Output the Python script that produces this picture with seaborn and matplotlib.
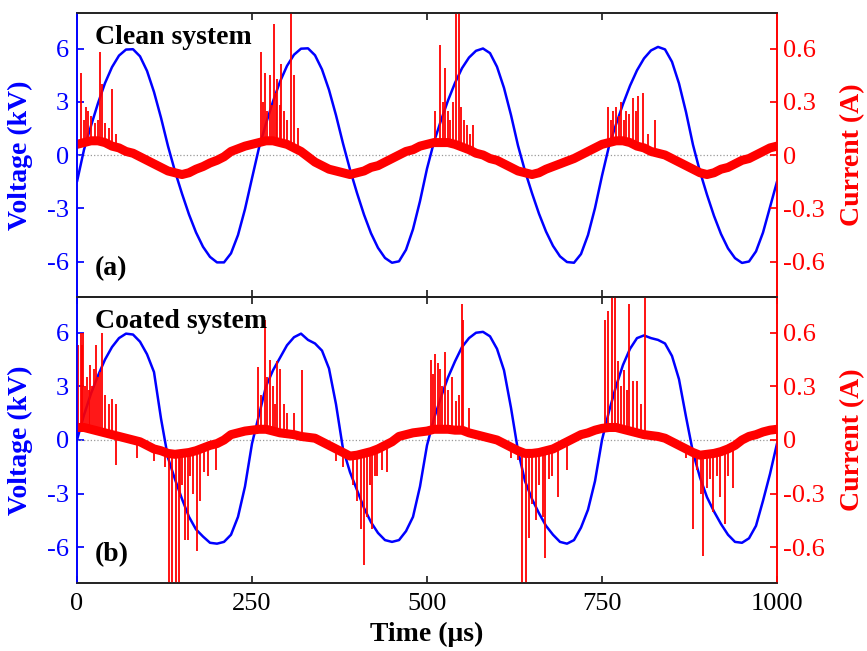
import numpy as np
import pandas as pd
import matplotlib
matplotlib.use("Agg")
import matplotlib.pyplot as plt
import seaborn as sns

# ---------------- data ----------------
time_us = list(range(0, 1001, 10))

clean_voltage = [
    -1.5, 0.3, 1.64, 2.92, 4.05, 4.95, 5.60, 5.94, 5.96, 5.56,
    4.74, 3.55, 2.10, 0.50, -0.92, -2.18, -3.35, -4.36, -5.17, -5.74,
    -6.05, -6.05, -5.54, -4.51, -3.05, -1.31, 0.41, 1.77, 3.02, 4.13,
    5.02, 5.65, 5.99, 6.01, 5.62, 4.82, 3.67, 2.24, 0.65, -0.82,
    -2.14, -3.36, -4.41, -5.23, -5.80, -6.07, -5.99, -5.34, -4.18, -2.60,
    -0.77, 0.74, 1.95, 3.07, 4.06, 4.89, 5.49, 5.87, 6.00, 5.74,
    4.97, 3.78, 2.25, 0.53, -0.90, -2.15, -3.31, -4.31, -5.12, -5.71,
    -6.03, -6.07, -5.58, -4.51, -2.99, -1.17, 0.50, 1.72, 2.87, 3.90,
    4.77, 5.44, 5.89, 6.09, 5.95, 5.25, 4.03, 2.42, 0.57, -0.94,
    -2.24, -3.43, -4.45, -5.26, -5.81, -6.08, -6.00, -5.43, -4.37, -2.94,
    -1.5,
]

coated_voltage = [
    0.0, 1.4, 2.6, 3.6, 4.5, 5.2, 5.7, 5.95, 5.9, 5.5,
    4.8, 3.8, 1.2, -1.0, -2.2, -3.3, -4.3, -5.0, -5.4, -5.75,
    -5.8, -5.7, -5.3, -4.3, -2.6, -0.2, 1.4, 3.0, 3.9, 4.6,
    5.3, 5.75, 5.95, 5.6, 5.4, 5.0, 4.0, 2.0, -0.5, -1.8,
    -2.8, -3.8, -4.6, -5.2, -5.6, -5.7, -5.6, -5.1, -4.3, -2.6,
    -0.3, 1.2, 2.4, 3.5, 4.4, 5.2, 5.7, 6.0, 6.05, 5.8,
    5.1, 3.9, 1.8, -0.6, -2.3, -3.3, -4.1, -4.8, -5.3, -5.7,
    -5.8, -5.6, -4.9, -3.9, -2.3, 0.0, 1.6, 3.0, 4.2, 5.1,
    5.7, 5.85, 5.7, 5.6, 5.4, 4.7, 3.4, 1.3, -0.7, -2.1,
    -3.2, -4.0, -4.7, -5.3, -5.7, -5.75, -5.5, -4.8, -3.4, -1.9,
    -0.2,
]

clean_current = [
    0.06, 0.07, 0.08, 0.08, 0.07, 0.05, 0.04, 0.02, 0.01, -0.01,
    -0.03, -0.05, -0.07, -0.09, -0.10, -0.11, -0.10, -0.08, -0.065, -0.045,
    -0.03, -0.01, 0.02, 0.035, 0.05, 0.06, 0.07, 0.08, 0.08, 0.07,
    0.06, 0.04, 0.02, -0.01, -0.04, -0.06, -0.08, -0.09, -0.10, -0.11,
    -0.10, -0.09, -0.07, -0.06, -0.04, -0.02, 0.0, 0.02, 0.03, 0.05,
    0.06, 0.07, 0.07, 0.07, 0.06, 0.045, 0.03, 0.01, 0.0, -0.02,
    -0.03, -0.05, -0.07, -0.09, -0.10, -0.11, -0.10, -0.08, -0.065, -0.05,
    -0.035, -0.02, 0.0, 0.02, 0.04, 0.06, 0.07, 0.08, 0.08, 0.07,
    0.05, 0.04, 0.02, 0.01, 0.0, -0.02, -0.04, -0.06, -0.08, -0.10,
    -0.11, -0.10, -0.08, -0.07, -0.05, -0.03, -0.02, 0.0, 0.02, 0.04,
    0.05,
]

coated_current = [
    0.07, 0.07, 0.06, 0.05, 0.04, 0.03, 0.02, 0.01, 0.0, -0.01,
    -0.03, -0.05, -0.06, -0.075, -0.08, -0.075, -0.07, -0.06, -0.045, -0.03,
    -0.02, 0.0, 0.03, 0.04, 0.05, 0.055, 0.06, 0.06, 0.05, 0.04,
    0.035, 0.03, 0.02, 0.015, 0.01, -0.01, -0.03, -0.05, -0.07, -0.09,
    -0.085, -0.075, -0.065, -0.05, -0.03, -0.01, 0.02, 0.03, 0.04, 0.045,
    0.05, 0.06, 0.06, 0.06, 0.055, 0.055, 0.04, 0.03, 0.02, 0.01,
    0.0, -0.02, -0.04, -0.06, -0.075, -0.075, -0.07, -0.06, -0.05, -0.03,
    -0.01, 0.01, 0.03, 0.04, 0.055, 0.065, 0.07, 0.07, 0.06, 0.05,
    0.04, 0.03, 0.025, 0.02, 0.01, -0.01, -0.03, -0.05, -0.07, -0.085,
    -0.08, -0.075, -0.065, -0.05, -0.03, 0.0, 0.02, 0.03, 0.045, 0.055,
    0.06,
]

# discharge current pulses (time in us, peak current in A)
clean_spikes = [
    (5, 0.46), (10, 0.20), (13, 0.27), (16, 0.25), (20, 0.22), (25, 0.18), (30, 0.20),
    (33, 0.58), (36, 0.40), (40, 0.18), (45, 0.15), (50, 0.37), (55, 0.12),
    (263, 0.58), (266, 0.30), (268, 0.46), (272, 0.25), (275, 0.45), (278, 0.28),
    (281, 0.74), (284, 0.35), (286, 0.43), (290, 0.28), (292, 0.51), (296, 0.25),
    (300, 0.20), (306, 0.85), (310, 0.45), (315, 0.15),
    (512, 0.25), (519, 0.62), (523, 0.30), (526, 0.49), (530, 0.25), (533, 0.20),
    (537, 0.30), (541, 0.85), (545, 0.85), (549, 0.27), (553, 0.20), (557, 0.17),
    (562, 0.12), (566, 0.17),
    (759, 0.27), (763, 0.20), (766, 0.25), (770, 0.27), (774, 0.22), (777, 0.30),
    (781, 0.20), (784, 0.25), (789, 0.23), (794, 0.32), (798, 0.25), (802, 0.33),
    (808, 0.35), (815, 0.12), (825, 0.20),
]

coated_spikes = [
    (1, 0.53), (5, 0.60), (7, 0.53), (9, 0.60), (12, 0.30), (14, 0.35), (17, 0.28),
    (19, 0.42), (22, 0.30), (24, 0.40), (27, 0.53), (30, 0.35), (33, 0.38), (36, 0.60),
    (40, 0.25), (45, 0.20), (50, 0.23), (55, 0.20),
    (259, 0.41), (263, 0.25), (268, 0.67), (272, 0.35), (276, 0.45), (280, 0.30),
    (283, 0.20), (286, 0.44), (290, 0.40), (295, 0.20), (300, 0.15), (310, 0.15), (321, 0.39),
    (505, 0.45), (509, 0.37), (512, 0.48), (515, 0.43), (519, 0.40), (522, 0.30),
    (526, 0.49), (530, 0.28), (536, 0.35), (541, 0.22), (545, 0.25), (550, 0.76),
    (552, 0.67), (560, 0.18),
    (754, 0.67), (759, 0.72), (764, 0.85), (769, 0.85), (773, 0.44), (777, 0.30),
    (781, 0.39), (785, 0.28), (789, 0.76), (794, 0.33), (800, 0.33), (805, 0.20), (811, 0.85),
    (56, -0.14), (85, -0.10), (110, -0.12), (125, -0.15), (131, -0.85), (136, -0.85),
    (141, -0.85), (145, -0.85), (147, -0.32), (150, -0.25), (154, -0.56), (159, -0.56),
    (162, -0.20), (166, -0.30), (171, -0.62), (176, -0.34), (182, -0.18), (187, -0.20), (199, -0.17),
    (370, -0.12), (380, -0.15), (388, -0.11), (394, -0.25), (400, -0.34), (405, -0.50),
    (410, -0.70), (414, -0.43), (418, -0.25), (421, -0.50), (425, -0.20), (429, -0.20),
    (436, -0.17), (443, -0.18),
    (620, -0.10), (630, -0.11), (636, -0.85), (642, -0.85), (645, -0.55), (650, -0.36),
    (656, -0.45), (660, -0.25), (665, -0.43), (669, -0.66), (674, -0.22), (679, -0.20),
    (687, -0.32), (700, -0.17),
    (870, -0.10), (880, -0.50), (885, -0.17), (891, -0.30), (894, -0.65), (900, -0.27),
    (904, -0.22), (908, -0.40), (914, -0.20), (919, -0.32), (926, -0.47), (930, -0.20), (937, -0.27),
]

x_ticks = [0, 250, 500, 750, 1000]
v_ticks = [-6, -3, 0, 3, 6]
v_tick_labels = ["-6", "-3", "0", "3", "6"]
i_ticks = [-0.6, -0.3, 0.0, 0.3, 0.6]
i_tick_labels = ["-0.6", "-0.3", "0", "0.3", "0.6"]

# ---------------- styling ----------------
sns.set_theme(style="white")
plt.rcParams["font.family"] = ["Liberation Serif", "DejaVu Serif"]
plt.rcParams["axes.unicode_minus"] = False

BLUE = "#0000ff"
RED = "#ff0000"
TICK_FS = 19
LABEL_FS = 20

fig = plt.figure(figsize=(8.67, 6.51), dpi=100)
L, W = 77 / 867, 700 / 867
ax_top = fig.add_axes([L, 1 - 297 / 651, W, 284 / 651])
ax_bot = fig.add_axes([L, 1 - 583 / 651, W, 286 / 651])


def draw_panel(ax, volt, cur, spikes, title, tag, show_x):
    dfv = pd.DataFrame({"t": time_us, "V": volt})
    sns.lineplot(data=dfv, x="t", y="V", ax=ax, color=BLUE, lw=1.8, zorder=3)
    ax.axhline(0, color="#999999", ls=":", lw=0.9, zorder=1)
    ax.set_xlim(0, 1000)
    ax.set_ylim(-8, 8)
    ax.set_yticks(v_ticks)
    ax.set_yticklabels(v_tick_labels)
    ax.set_xticks(x_ticks)
    ax.tick_params(axis="y", direction="in", length=5, colors=BLUE,
                   labelsize=TICK_FS, left=True, right=False, pad=6)
    ax.tick_params(axis="x", direction="in", length=5, colors="#222222",
                   labelsize=TICK_FS, bottom=True, top=True, pad=7,
                   labelbottom=show_x)
    for lab in ax.get_xticklabels():
        lab.set_color("black")
    ax.set_ylabel("Voltage (kV)", color=BLUE, fontweight="bold", fontsize=LABEL_FS)
    ax.yaxis.set_label_coords(-0.063, 0.5)
    if show_x:
        ax.set_xlabel("Time (μs)", color="black", fontweight="bold", fontsize=LABEL_FS)
        ax.xaxis.set_label_coords(0.5, -0.135)
    else:
        ax.set_xlabel("")

    ax2 = ax.twinx()
    dfi = pd.DataFrame({"t": time_us, "I": cur})
    sns.lineplot(data=dfi, x="t", y="I", ax=ax2, color=RED, lw=6.5, zorder=2)
    st = [s[0] for s in spikes]
    sa = [s[1] for s in spikes]
    base = np.interp(st, time_us, cur)
    ax2.vlines(st, base, sa, color=RED, lw=1.3, zorder=2)
    ax2.set_xlim(0, 1000)
    ax2.set_ylim(-0.8, 0.8)
    ax2.set_yticks(i_ticks)
    ax2.set_yticklabels(i_tick_labels)
    ax2.tick_params(axis="y", direction="in", length=5, colors=RED,
                    labelsize=TICK_FS, right=True, left=False, pad=4)
    ax2.set_ylabel("Current (A)", color=RED, fontweight="bold", fontsize=LABEL_FS)
    ax2.yaxis.set_label_coords(1.09, 0.5)

    for a in (ax, ax2):
        a.spines["left"].set_color(BLUE)
        a.spines["right"].set_color(RED)
        a.spines["top"].set_color("#222222")
        a.spines["bottom"].set_color("#222222")
        for s in a.spines.values():
            s.set_linewidth(1.2)

    ax2.text(0.026, 0.915, title, transform=ax.transAxes, fontsize=LABEL_FS,
             fontweight="bold", color="black", va="center", ha="left", zorder=5)
    ax2.text(0.026, 0.10, tag, transform=ax.transAxes, fontsize=LABEL_FS,
             fontweight="bold", color="black", va="center", ha="left", zorder=5)
    return ax2


draw_panel(ax_top, clean_voltage, clean_current, clean_spikes,
           "Clean system", "(a)", show_x=False)
draw_panel(ax_bot, coated_voltage, coated_current, coated_spikes,
           "Coated system", "(b)", show_x=True)

fig.savefig("out.png", dpi=100)
